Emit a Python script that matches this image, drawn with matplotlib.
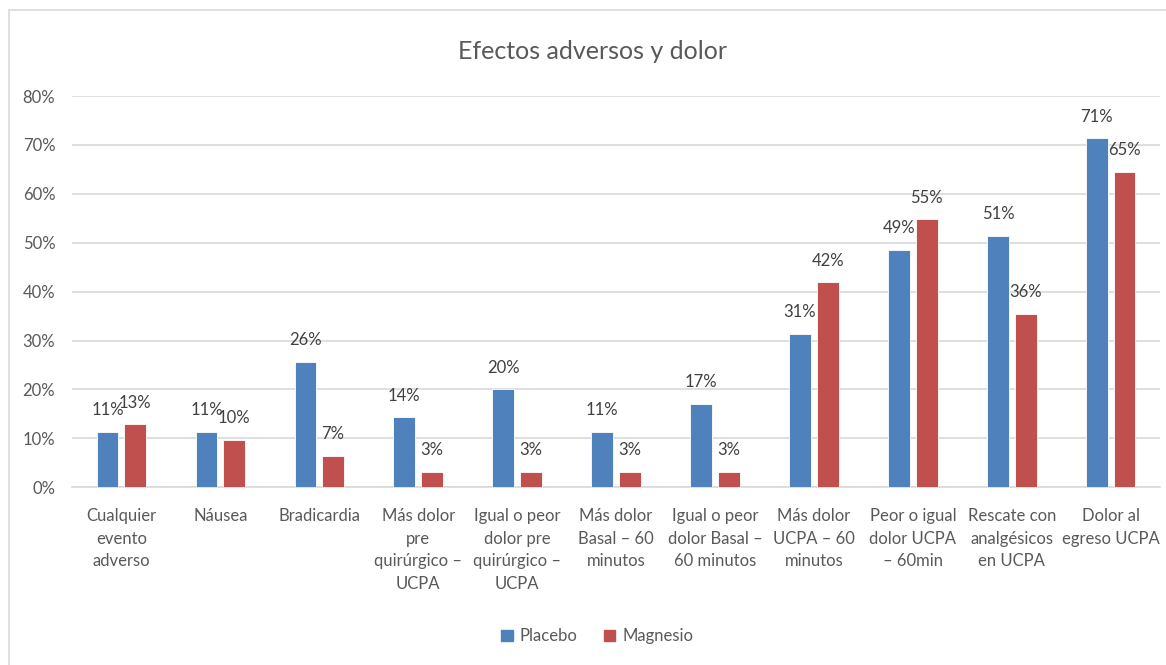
import matplotlib
matplotlib.use("Agg")
import matplotlib.pyplot as plt
import matplotlib.patches as mpatches
import numpy as np

plt.rcParams['font.family'] = ['Lato', 'DejaVu Sans']

categorias = ["Cualquier\nevento\nadverso", "Náusea", "Bradicardia",
              "Más dolor\npre\nquirúrgico –\nUCPA",
              "Igual o peor\ndolor pre\nquirúrgico –\nUCPA",
              "Más dolor\nBasal – 60\nminutos",
              "Igual o peor\ndolor Basal –\n60 minutos",
              "Más dolor\nUCPA – 60\nminutos",
              "Peor o igual\ndolor UCPA\n– 60min",
              "Rescate con\nanalgésicos\nen UCPA",
              "Dolor al\negreso UCPA"]
placebo = [0.114, 0.114, 0.257, 0.143, 0.200, 0.114, 0.171, 0.314, 0.486, 0.514, 0.714]
magnesio = [0.129, 0.097, 0.065, 0.032, 0.032, 0.032, 0.032, 0.419, 0.548, 0.355, 0.645]

azul = '#4F81BD'
rojo = '#C0504D'
gris = '#595959'

fig = plt.figure(figsize=(11.66, 6.65), dpi=100)
ax = fig.add_axes([0.0617, 0.2672, 0.9333, 0.5884])

x = np.arange(len(categorias))
w = 0.22
b1 = ax.bar(x - 0.14, placebo, w, color=azul, edgecolor='white', linewidth=0.6, zorder=3, label='Placebo')
b2 = ax.bar(x + 0.14, magnesio, w, color=rojo, edgecolor='white', linewidth=0.6, zorder=3, label='Magnesio')

for barras in (b1, b2):
    for r in barras:
        v = r.get_height()
        # redondeo hacia arriba como Excel
        ax.annotate(f"{int(v*100 + 0.5 + 1e-9)}%", (r.get_x() + r.get_width()/2, v),
                    xytext=(0, 15.5), textcoords='offset points',
                    ha='center', va='center', fontsize=12, color='#404040', zorder=4)

ax.set_xlim(-0.5, len(categorias) - 0.5)
ax.set_ylim(0, 0.8)
ax.set_yticks(np.arange(0, 0.81, 0.1))
ax.set_yticklabels([f"{int(round(t*100))}%" for t in np.arange(0, 0.81, 0.1)])
ax.grid(axis='y', color='#D9D9D9', linewidth=1.2, zorder=0)
for s in ['top', 'right', 'left']:
    ax.spines[s].set_visible(False)
ax.spines['bottom'].set_color('#D9D9D9')
ax.spines['bottom'].set_linewidth(1.2)
ax.tick_params(axis='both', length=0, colors=gris, labelsize=12)
ax.tick_params(axis='y', pad=12)
ax.set_xticks(x)
ax.set_xticklabels(categorias, linespacing=1.5, va='top')
ax.tick_params(axis='x', pad=15)

fig.text(0.508, 0.922, "Efectos adversos y dolor", ha='center', va='center',
         fontsize=18, color=gris)

fig.legend(handles=[mpatches.Patch(color=azul, label='Placebo'),
                    mpatches.Patch(color=rojo, label='Magnesio')],
           loc='center', bbox_to_anchor=(0.512, 0.043), ncol=2, frameon=False,
           fontsize=12, handlelength=0.7, handleheight=0.7, handletextpad=0.4,
           columnspacing=1.6, labelcolor=gris)

fig.add_artist(mpatches.Rectangle((0.008, -0.01), 1.0, 0.995, transform=fig.transFigure,
                                  fill=False, edgecolor='#D9D9D9', linewidth=1.2))

fig.savefig("out.png", dpi=100)
